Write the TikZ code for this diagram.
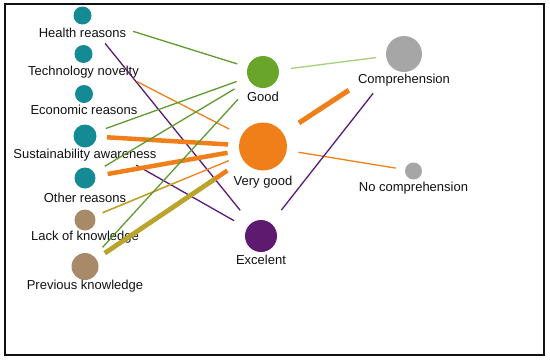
\documentclass[tikz,border=0pt]{standalone}
\usepackage{fontspec}
\setmainfont{Liberation Sans}
\usepackage{xcolor}
\usepackage{tikz}
\usetikzlibrary{positioning}
\definecolor{ink}{HTML}{111111}
\definecolor{tealdot}{HTML}{138A94}
\definecolor{browndot}{HTML}{A88A69}
\definecolor{goodgreen}{HTML}{6AA52B}
\definecolor{linkgreen}{HTML}{5F9A2E}
\definecolor{palegreen}{HTML}{A3D07A}
\definecolor{vgorange}{HTML}{F07F1A}
\definecolor{excpurple}{HTML}{5E1A6E}
\definecolor{linkpurple}{HTML}{5A1A78}
\definecolor{compgray}{HTML}{A6A6A6}
\definecolor{olive}{HTML}{B7A52C}
\tikzset{
  every node/.style={font=\fontsize{13}{15}\selectfont,text=ink},
  dot/.style={circle,draw=none,inner sep=0pt},
  reason/.style={dot,fill=tealdot,minimum size=18pt},
  know/.style={dot,fill=browndot,minimum size=21pt},
  grade/.style={dot,minimum size=32pt},
  compr/.style={dot,fill=compgray},
  lbl/.style={inner sep=0pt,label distance=3pt},
  thinlink/.style={line width=1.3pt},
  thicklink/.style={line width=4.5pt}
}

\begin{document}
\begin{tikzpicture}[x=1pt,y=-1pt]
  \useasboundingbox (0,0) rectangle (550,362);
  \draw[ink,line width=1.6pt] (5,4) rectangle (544,355);

  % left column
  \node[reason,label={[lbl]below:Health reasons}] (health) at (82.5,15.5) {};
  \node[reason,label={[lbl]below:Technology novelty}] (tech) at (83.5,54) {};
  \node[reason,label={[lbl,label distance=2pt]below:Economic reasons}] (econ) at (84,94) {};
  \node[reason,minimum size=23pt,label={[lbl,label distance=1pt]below:Sustainability awareness}] (sust) at (85,136) {};
  \node[reason,minimum size=21pt,label={[lbl,label distance=4pt]below:Other reasons}] (other) at (85,178) {};
  \node[know,label={[lbl,label distance=0pt]below:Lack of knowledge}] (lack) at (85,220) {};
  \node[know,minimum size=27pt,label={[lbl,label distance=0pt]below:Previous knowledge}] (prev) at (85,266.5) {};

  % grades
  \node[grade,fill=goodgreen,label={[lbl,label distance=4pt]below:Good}] (good) at (263,72) {};
  \node[grade,fill=vgorange,minimum size=48pt,label={[lbl,label distance=5pt]below:Very good}] (vgood) at (263,146.5) {};
  \node[grade,fill=excpurple,label={[lbl]below:Excelent}] (exc) at (261,236) {};

  % comprehension
  \node[compr,minimum size=36pt,label={[lbl,label distance=2pt]below:Comprehension}] (comp) at (404,54) {};
  \node[compr,minimum size=17pt,label={[lbl,label distance=2pt]below:No comprehension}] (nocomp) at (413.5,171) {};

  % links to grades
  \draw[thinlink,linkgreen,shorten <=53pt,shorten >=27pt] (health.center) -- (good.center);
  \draw[thinlink,linkpurple,shorten <=36pt,shorten >=33pt] (health.center) -- (exc.center);
  \draw[thinlink,vgorange,shorten <=60pt,shorten >=38pt] (tech.center) -- (vgood.center);
  \draw[thinlink,linkgreen,shorten <=22pt,shorten >=28pt] (sust.center) -- (good.center);
  \draw[thicklink,vgorange,shorten <=22pt,shorten >=35pt] (sust.center) -- (vgood.center);
  \draw[thinlink,linkpurple,shorten <=59pt,shorten >=31pt] (sust.center) -- (exc.center);
  \draw[thinlink,linkgreen,shorten <=23pt,shorten >=33pt] (other.center) -- (good.center);
  \draw[thicklink,vgorange,shorten <=23pt,shorten >=36pt] (other.center) -- (vgood.center);
  \draw[thinlink,vgorange,shorten <=19pt,shorten >=37pt] (lack.center) -- (vgood.center);
  \draw[thinlink,olive,shorten <=19pt,shorten >=92pt] (lack.center) -- (vgood.center);
  \draw[thinlink,linkgreen,shorten <=26pt,shorten >=37pt] (prev.center) -- (good.center);
  \draw[thicklink,vgorange,shorten <=24pt,shorten >=43pt] (prev.center) -- (vgood.center);
  \draw[thicklink,olive,shorten <=24pt,shorten >=58pt] (prev.center) -- (vgood.center);

  % links to comprehension
  \draw[thinlink,palegreen,shorten <=28pt,shorten >=28pt] (good.center) -- (comp.center);
  \draw[thicklink,line width=5pt,vgorange,shorten <=43pt,shorten >=66pt] (vgood.center) -- (comp.center);
  \draw[thinlink,vgorange,shorten <=36pt,shorten >=18pt] (vgood.center) -- (nocomp.center);
  \draw[thinlink,linkpurple,shorten <=33pt,shorten >=50pt] (exc.center) -- (comp.center);
\end{tikzpicture}
\end{document}
